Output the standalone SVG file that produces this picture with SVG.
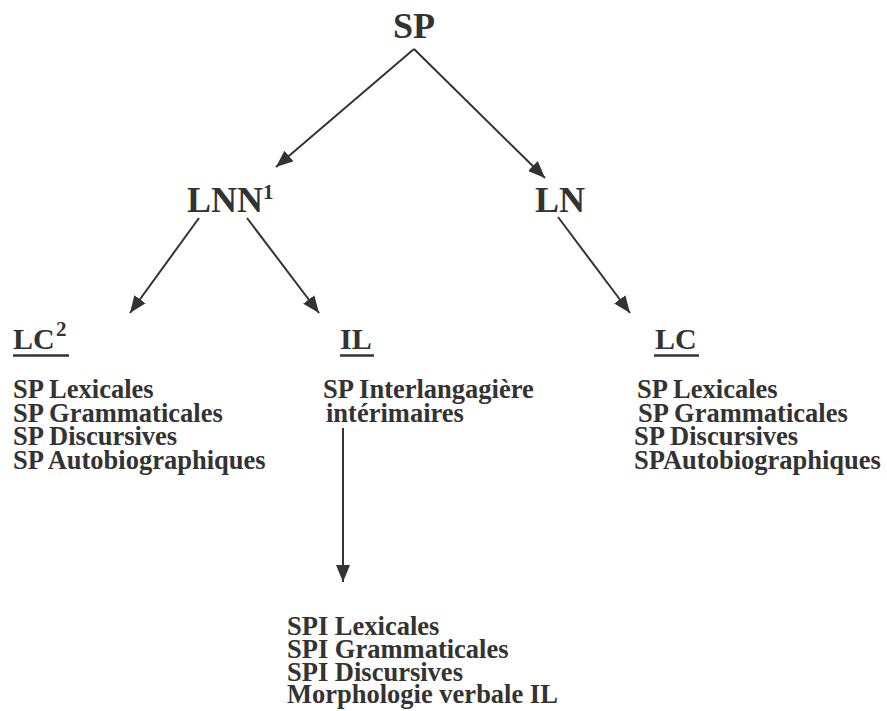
<svg xmlns="http://www.w3.org/2000/svg" width="887" height="711" viewBox="0 0 887 711">
<defs>
<marker id="ah" markerUnits="userSpaceOnUse" markerWidth="18" markerHeight="16" refX="17" refY="7" orient="auto">
<path d="M0,0 L17,7 L0,14 Z" fill="#333"/>
</marker>
<style>
text{font-family:"Liberation Serif","Times New Roman",serif;font-weight:bold;fill:#333}
.big{font-size:36px}
.head{font-size:30px}
.sup{font-size:21px}
.item{font-size:26.5px}
.c{stroke:#333;stroke-width:2;fill:none;marker-end:url(#ah)}
.u{stroke:#333;stroke-width:2.5}
</style>
</defs>
<rect width="887" height="711" fill="#fff"/>
<g id="connectors">
<line class="c" x1="414" y1="49" x2="276" y2="167"/>
<line class="c" x1="414" y1="49" x2="545" y2="178"/>
<line class="c" x1="199" y1="218" x2="130" y2="313"/>
<line class="c" x1="247" y1="218" x2="319" y2="313"/>
<line class="c" x1="558" y1="217" x2="630" y2="313"/>
<line class="c" x1="343" y1="428" x2="343" y2="582"/>
</g>
<g id="sp"><text class="big" x="393" y="38">SP</text></g>
<g id="lnn"><text class="big" x="187" y="212">LNN</text><text class="sup" x="263" y="199">1</text></g>
<g id="ln"><text class="big" x="535" y="212">LN</text></g>
<g id="lc2">
<text class="head" x="13" y="349">LC</text><text class="sup" x="56" y="336">2</text>
<line class="u" x1="13" y1="355.5" x2="69" y2="355.5"/>
<text class="item" x="13" y="398">SP Lexicales</text>
<text class="item" x="13" y="422">SP Grammaticales</text>
<text class="item" x="13" y="445">SP Discursives</text>
<text class="item" x="13" y="469">SP Autobiographiques</text>
</g>
<g id="il">
<text class="head" x="340" y="349">IL</text>
<line class="u" x1="340" y1="355.5" x2="374" y2="355.5"/>
<text class="item" x="323" y="398">SP Interlangagière</text>
<text class="item" x="326" y="422">intérimaires</text>
</g>
<g id="lc">
<text class="head" x="655" y="349">LC</text>
<line class="u" x1="654" y1="355.5" x2="699" y2="355.5"/>
<text class="item" x="637" y="398">SP Lexicales</text>
<text class="item" x="638" y="422">SP Grammaticales</text>
<text class="item" x="634" y="445">SP Discursives</text>
<text class="item" x="634" y="469">SPAutobiographiques</text>
</g>
<g id="spi">
<text class="item" x="287" y="635">SPI Lexicales</text>
<text class="item" x="287" y="658">SPI Grammaticales</text>
<text class="item" x="287" y="681">SPI Discursives</text>
<text class="item" x="287" y="703">Morphologie verbale IL</text>
</g>
</svg>
